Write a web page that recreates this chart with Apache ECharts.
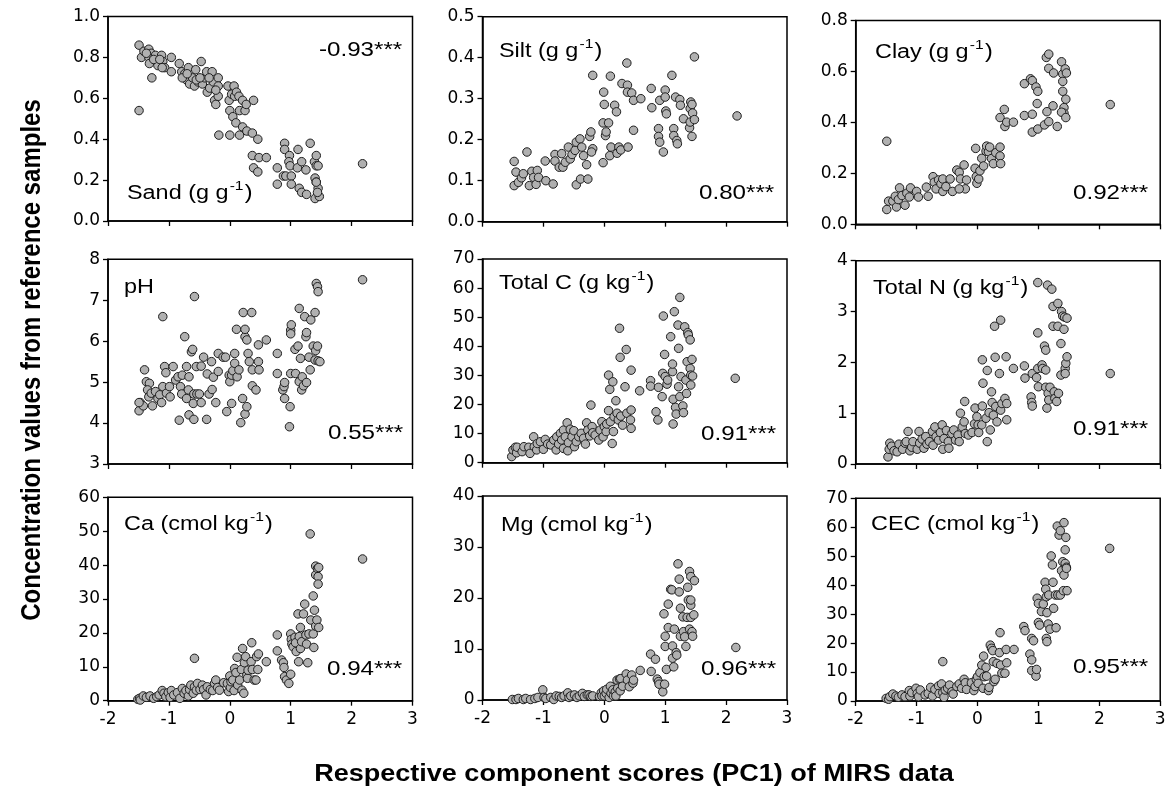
<!DOCTYPE html>
<html><head><meta charset="utf-8">
<script src="https://cdn.jsdelivr.net/npm/echarts@6/dist/echarts.min.js"></script>
<style>html,body{margin:0;padding:0;background:#fff}#c{width:1172px;height:796px}</style>
</head><body><div id="c"></div>
<script>
// ---------------- DATA (x = PC1 score, y = concentration) ----------------
const sand = [[-1.49,0.86],[-1.45,0.80],[-1.41,0.83],[-1.33,0.84],[-1.33,0.80],[-1.29,0.82],[-1.32,0.77],[-1.22,0.81],[-1.18,0.76],[-1.28,0.70],[-1.49,0.54],[-1.12,0.81],[-1.10,0.78],[-1.07,0.75],[-0.96,0.80],[-0.96,0.73],[-0.83,0.77],[-0.79,0.73],[-0.74,0.72],[-0.71,0.69],[-0.68,0.75],[-0.66,0.67],[-0.61,0.70],[-0.58,0.66],[-0.56,0.74],[-0.52,0.68],[-0.47,0.78],[-0.45,0.67],[-0.41,0.70],[-0.38,0.73],[-0.37,0.63],[-0.33,0.65],[-0.29,0.73],[-0.27,0.68],[-0.25,0.59],[-0.23,0.57],[-0.19,0.70],[-0.19,0.66],[-0.19,0.61],[-0.18,0.42],[-0.03,0.66],[-0.01,0.59],[0.00,0.54],[0.03,0.62],[0.07,0.66],[0.08,0.61],[0.05,0.51],[0.10,0.48],[0.00,0.42],[0.11,0.63],[0.15,0.61],[0.16,0.54],[0.21,0.59],[0.25,0.54],[0.27,0.57],[0.16,0.42],[0.21,0.46],[0.28,0.44],[0.37,0.43],[0.39,0.59],[0.46,0.40],[0.37,0.32],[0.39,0.26],[0.46,0.24],[0.48,0.31],[0.60,0.31],[0.78,0.26],[0.78,0.18],[0.90,0.38],[0.90,0.35],[0.88,0.22],[0.92,0.22],[0.98,0.32],[0.97,0.29],[0.99,0.27],[1.01,0.22],[1.01,0.18],[1.12,0.35],[1.11,0.26],[1.18,0.29],[1.14,0.16],[1.18,0.14],[1.25,0.25],[1.26,0.13],[1.32,0.38],[1.39,0.29],[1.40,0.21],[1.42,0.27],[1.42,0.32],[1.45,0.27],[1.42,0.19],[1.45,0.16],[1.40,0.11],[1.47,0.12],[1.42,0.19],[1.44,0.14],[2.18,0.28],[-1.37,0.82],[-1.25,0.79],[-1.15,0.79],[-1.11,0.75],[-0.78,0.70],[-0.70,0.72],[-0.55,0.69],[-0.49,0.70],[-0.34,0.70],[-0.23,0.64]];
const silt = [[-1.48,0.147],[-1.45,0.121],[-1.48,0.088],[-1.41,0.096],[-1.36,0.107],[-1.33,0.117],[-1.27,0.170],[-1.23,0.088],[-1.19,0.123],[-1.16,0.108],[-1.12,0.091],[-1.10,0.125],[-1.08,0.108],[-0.97,0.148],[-0.96,0.100],[-0.84,0.092],[-0.81,0.164],[-0.81,0.148],[-0.74,0.133],[-0.70,0.166],[-0.68,0.133],[-0.64,0.145],[-0.59,0.182],[-0.56,0.153],[-0.53,0.164],[-0.48,0.174],[-0.46,0.194],[-0.46,0.090],[-0.40,0.202],[-0.39,0.104],[-0.37,0.182],[-0.34,0.161],[-0.29,0.139],[-0.27,0.104],[-0.24,0.208],[-0.22,0.219],[-0.19,0.357],[-0.19,0.178],[-0.21,0.170],[-0.02,0.144],[-0.02,0.241],[-0.01,0.316],[0.00,0.286],[0.02,0.210],[0.03,0.219],[0.07,0.241],[0.10,0.355],[0.09,0.161],[0.11,0.182],[0.17,0.284],[0.20,0.268],[0.21,0.167],[0.24,0.182],[0.27,0.175],[0.29,0.337],[0.37,0.387],[0.38,0.333],[0.38,0.316],[0.39,0.182],[0.45,0.314],[0.48,0.296],[0.48,0.223],[0.60,0.300],[0.77,0.325],[0.78,0.278],[0.89,0.227],[0.89,0.208],[0.91,0.194],[0.91,0.296],[0.97,0.170],[1.00,0.321],[1.00,0.304],[1.01,0.270],[1.02,0.263],[1.11,0.357],[1.14,0.227],[1.14,0.210],[1.17,0.304],[1.19,0.198],[1.20,0.190],[1.24,0.298],[1.25,0.284],[1.30,0.251],[1.40,0.229],[1.41,0.276],[1.42,0.292],[1.44,0.286],[1.44,0.208],[1.45,0.265],[1.41,0.243],[1.48,0.249],[1.48,0.402],[2.18,0.258]];
const clay = [[-1.49,0.058],[-1.46,0.091],[-1.49,0.326],[-1.39,0.091],[-1.35,0.110],[-1.33,0.068],[-1.30,0.097],[-1.28,0.143],[-1.24,0.113],[-1.19,0.075],[-1.16,0.122],[-1.12,0.107],[-1.10,0.143],[-1.00,0.129],[-0.97,0.107],[-0.84,0.146],[-0.81,0.110],[-0.73,0.187],[-0.71,0.165],[-0.68,0.139],[-0.64,0.174],[-0.60,0.159],[-0.57,0.178],[-0.57,0.129],[-0.52,0.148],[-0.45,0.178],[-0.41,0.129],[-0.34,0.213],[-0.30,0.204],[-0.28,0.178],[-0.22,0.233],[-0.20,0.139],[-0.18,0.174],[-0.30,0.139],[-0.03,0.298],[-0.04,0.220],[-0.02,0.187],[-0.01,0.161],[0.02,0.178],[0.04,0.210],[0.07,0.259],[0.10,0.229],[0.14,0.287],[0.15,0.307],[0.18,0.285],[0.20,0.303],[0.23,0.258],[0.26,0.238],[0.30,0.281],[0.37,0.303],[0.37,0.268],[0.38,0.238],[0.37,0.419],[0.44,0.451],[0.45,0.384],[0.48,0.401],[0.59,0.401],[0.77,0.552],[0.77,0.427],[0.87,0.571],[0.90,0.564],[0.90,0.432],[0.90,0.362],[0.96,0.539],[0.99,0.522],[0.98,0.474],[0.99,0.374],[1.10,0.390],[1.14,0.442],[1.17,0.403],[1.13,0.655],[1.17,0.668],[1.17,0.612],[1.25,0.594],[1.24,0.465],[1.31,0.384],[1.38,0.638],[1.40,0.590],[1.40,0.561],[1.40,0.522],[1.42,0.458],[1.42,0.436],[1.38,0.440],[1.44,0.610],[1.46,0.594],[1.45,0.491],[1.45,0.419],[2.18,0.470]];
const ph = [[-1.49,4.30],[-1.47,4.50],[-1.42,4.42],[-1.49,4.50],[-1.40,5.30],[-1.37,5.01],[-1.32,4.97],[-1.35,4.81],[-1.33,4.64],[-1.29,4.73],[-1.27,4.42],[-1.22,4.77],[-1.18,4.60],[-1.15,4.69],[-1.12,4.50],[-1.10,4.89],[-1.10,6.60],[-1.07,5.38],[-1.05,5.23],[-1.04,4.73],[-0.99,4.89],[-0.98,4.64],[-0.93,5.38],[-0.89,5.05],[-0.85,5.13],[-0.83,4.07],[-0.81,4.89],[-0.79,4.71],[-0.78,5.17],[-0.74,6.11],[-0.71,5.38],[-0.71,4.60],[-0.68,4.81],[-0.67,5.13],[-0.67,4.20],[-0.63,5.74],[-0.61,5.80],[-0.60,4.48],[-0.59,4.71],[-0.59,4.09],[-0.58,7.09],[-0.55,5.38],[-0.54,4.71],[-0.50,4.71],[-0.47,5.39],[-0.47,4.50],[-0.43,5.61],[-0.38,4.09],[-0.37,5.20],[-0.34,4.71],[-0.30,5.50],[-0.29,4.82],[-0.27,5.12],[-0.23,4.50],[-0.19,5.70],[-0.19,5.26],[-0.11,5.61],[-0.07,5.61],[-0.05,4.28],[-0.01,5.17],[0.00,5.01],[0.03,4.48],[0.03,5.17],[0.05,5.28],[0.08,5.70],[0.08,5.46],[0.11,6.29],[0.12,5.13],[0.15,5.30],[0.18,4.01],[0.21,4.60],[0.22,6.70],[0.25,6.11],[0.25,6.29],[0.25,4.22],[0.28,4.40],[0.28,6.03],[0.30,5.70],[0.32,5.50],[0.36,6.70],[0.37,5.30],[0.37,4.91],[0.43,4.81],[0.47,5.91],[0.47,5.50],[0.48,5.30],[0.60,6.03],[0.78,5.70],[0.78,5.21],[0.87,4.81],[0.89,4.89],[0.90,4.99],[0.90,4.60],[0.98,3.91],[0.99,4.40],[1.00,6.27],[1.00,6.18],[1.01,6.40],[1.00,5.21],[1.07,5.80],[1.08,5.21],[1.12,5.88],[1.14,6.80],[1.14,5.01],[1.16,5.58],[1.18,4.81],[1.19,5.13],[1.21,4.91],[1.23,6.60],[1.25,6.11],[1.26,6.21],[1.26,4.99],[1.30,5.61],[1.33,6.52],[1.32,5.30],[1.37,5.88],[1.40,6.70],[1.40,5.54],[1.42,7.41],[1.44,7.33],[1.45,7.21],[1.41,5.77],[1.44,5.88],[1.45,5.52],[1.48,5.50],[2.18,7.50]];
const totalC = [[-1.52,2.1],[-1.50,4.4],[-1.46,5.3],[-1.44,3.4],[-1.43,5.3],[-1.35,3.8],[-1.32,5.5],[-1.24,5.3],[-1.22,3.2],[-1.16,8.9],[-1.15,5.5],[-1.11,4.4],[-1.10,6.6],[-1.05,7.2],[-1.00,4.6],[-0.97,8.0],[-0.93,6.4],[-0.88,6.1],[-0.83,7.8],[-0.79,4.4],[-0.78,8.9],[-0.75,6.4],[-0.72,10.1],[-0.70,7.8],[-0.67,11.2],[-0.67,4.9],[-0.64,8.9],[-0.61,13.7],[-0.60,4.1],[-0.59,6.9],[-0.56,11.5],[-0.53,8.9],[-0.50,11.0],[-0.49,5.5],[-0.46,7.2],[-0.42,8.9],[-0.38,10.1],[-0.34,8.4],[-0.31,6.4],[-0.29,13.7],[-0.27,11.2],[-0.24,9.2],[-0.22,19.8],[-0.20,12.4],[-0.19,10.3],[-0.15,9.5],[-0.09,7.8],[-0.07,11.2],[-0.04,14.1],[-0.02,8.9],[0.00,12.4],[0.03,10.7],[0.04,13.3],[0.07,30.1],[0.07,17.9],[0.09,25.2],[0.10,14.1],[0.13,6.6],[0.14,27.8],[0.15,10.7],[0.16,15.8],[0.19,21.3],[0.21,17.0],[0.23,14.7],[0.25,46.2],[0.26,36.2],[0.27,16.0],[0.30,12.9],[0.34,26.1],[0.36,38.9],[0.37,17.0],[0.43,14.7],[0.44,18.1],[0.44,11.8],[0.44,31.8],[0.58,24.7],[0.76,28.2],[0.76,26.3],[0.85,17.5],[0.88,14.7],[0.89,25.9],[0.95,22.7],[0.96,30.7],[0.97,50.4],[0.99,37.2],[1.00,29.6],[1.03,27.0],[1.04,28.4],[1.09,43.3],[1.12,31.3],[1.12,33.9],[1.13,21.8],[1.13,13.3],[1.15,51.9],[1.17,19.0],[1.18,16.7],[1.21,47.3],[1.22,39.3],[1.22,26.1],[1.24,22.7],[1.24,56.8],[1.26,29.6],[1.29,19.5],[1.30,17.2],[1.32,46.7],[1.34,28.4],[1.35,23.8],[1.36,34.7],[1.37,44.7],[1.38,43.9],[1.41,42.2],[1.41,32.4],[1.42,30.1],[1.42,26.7],[1.44,35.5],[1.45,29.8],[2.15,29.0]];
const totalN = [[-1.47,0.14],[-1.45,0.29],[-1.44,0.41],[-1.41,0.35],[-1.37,0.26],[-1.32,0.24],[-1.29,0.39],[-1.23,0.29],[-1.19,0.41],[-1.17,0.44],[-1.14,0.64],[-1.11,0.26],[-1.08,0.33],[-1.06,0.44],[-0.99,0.29],[-0.96,0.64],[-0.95,0.41],[-0.91,0.49],[-0.88,0.31],[-0.85,0.54],[-0.83,0.39],[-0.79,0.44],[-0.74,0.64],[-0.73,0.37],[-0.70,0.73],[-0.68,0.54],[-0.64,0.47],[-0.61,0.62],[-0.58,0.77],[-0.57,0.29],[-0.55,0.50],[-0.51,0.66],[-0.48,0.44],[-0.47,0.31],[-0.42,0.60],[-0.39,0.67],[-0.36,0.47],[-0.32,0.57],[-0.30,0.44],[-0.28,1.00],[-0.25,0.73],[-0.22,0.83],[-0.21,1.23],[-0.20,0.60],[-0.15,0.57],[-0.09,0.62],[-0.05,0.79],[-0.04,1.10],[-0.01,0.93],[0.01,0.77],[0.02,0.62],[0.07,0.77],[0.08,1.14],[0.08,2.05],[0.09,1.59],[0.14,0.90],[0.16,1.84],[0.16,0.44],[0.19,1.01],[0.21,0.67],[0.23,1.42],[0.24,1.21],[0.26,0.96],[0.28,2.71],[0.29,2.10],[0.30,1.13],[0.32,0.83],[0.36,1.78],[0.38,2.83],[0.38,1.06],[0.40,1.19],[0.45,1.29],[0.47,2.11],[0.48,0.87],[0.48,1.19],[0.59,1.88],[0.77,1.93],[0.78,1.69],[0.88,1.32],[0.89,1.21],[0.90,1.14],[0.90,1.78],[0.97,1.70],[0.99,3.57],[0.99,2.58],[0.99,1.88],[1.00,1.52],[1.06,1.95],[1.07,1.88],[1.10,2.32],[1.12,2.24],[1.12,1.85],[1.12,1.51],[1.14,1.10],[1.15,3.52],[1.16,1.39],[1.17,1.26],[1.19,1.51],[1.22,3.44],[1.24,3.10],[1.24,2.71],[1.26,1.42],[1.27,1.29],[1.30,1.23],[1.32,3.16],[1.32,2.71],[1.33,1.39],[1.37,2.37],[1.37,1.75],[1.38,3.00],[1.40,2.91],[1.42,2.65],[1.43,2.89],[1.44,1.88],[1.44,1.78],[1.45,1.98],[1.47,2.11],[1.47,2.87],[2.18,1.78]];
const ca = [[-1.51,0.4],[-1.48,0.7],[-1.47,0.2],[-1.42,1.4],[-1.37,1.0],[-1.31,1.4],[-1.25,0.7],[-1.20,1.2],[-1.16,1.7],[-1.11,3.0],[-1.08,2.2],[-1.05,1.2],[-1.01,2.4],[-0.98,1.0],[-0.96,3.0],[-0.92,1.7],[-0.86,2.4],[-0.82,0.7],[-0.78,3.6],[-0.75,2.2],[-0.72,3.0],[-0.68,1.4],[-0.66,3.3],[-0.64,4.6],[-0.60,2.2],[-0.58,12.5],[-0.58,4.1],[-0.55,3.1],[-0.53,5.1],[-0.49,3.3],[-0.45,4.6],[-0.43,3.3],[-0.39,1.7],[-0.37,4.1],[-0.32,3.3],[-0.28,3.0],[-0.25,5.1],[-0.23,6.1],[-0.20,3.9],[-0.17,3.1],[-0.10,5.3],[-0.04,5.1],[-0.02,2.7],[0.00,7.3],[0.01,3.9],[0.02,5.6],[0.05,6.1],[0.07,3.0],[0.08,9.5],[0.10,8.3],[0.12,12.8],[0.13,4.6],[0.16,6.1],[0.19,9.2],[0.20,3.1],[0.21,15.4],[0.23,2.2],[0.24,11.2],[0.26,13.0],[0.28,7.6],[0.29,6.6],[0.30,9.0],[0.35,11.5],[0.36,17.1],[0.37,9.2],[0.40,6.1],[0.43,6.1],[0.44,13.0],[0.46,9.2],[0.47,13.8],[0.60,11.5],[0.78,19.4],[0.78,14.7],[0.85,12.0],[0.88,11.2],[0.89,9.8],[0.90,7.1],[0.93,6.1],[0.97,5.1],[1.00,7.8],[1.00,19.7],[1.01,18.1],[1.02,16.7],[1.04,15.9],[1.07,18.7],[1.08,17.1],[1.09,14.5],[1.12,25.6],[1.13,11.5],[1.14,18.9],[1.16,21.6],[1.16,15.4],[1.18,17.4],[1.21,25.6],[1.23,28.5],[1.25,19.4],[1.26,16.7],[1.28,11.2],[1.30,19.7],[1.32,49.2],[1.33,23.8],[1.37,19.7],[1.37,30.9],[1.38,15.7],[1.39,26.7],[1.41,37.1],[1.41,22.0],[1.41,39.7],[1.43,23.8],[1.44,39.0],[1.45,36.6],[1.46,39.3],[1.45,34.4],[1.46,21.6],[2.18,41.8]];
const mg = [[-1.51,0.1],[-1.45,0.1],[-1.41,0.3],[-1.33,0.1],[-1.29,0.3],[-1.21,0.1],[-1.14,0.3],[-1.09,0.5],[-1.01,2.0],[-0.99,0.5],[-0.96,0.3],[-0.88,0.5],[-0.83,0.1],[-0.79,0.8],[-0.74,0.7],[-0.70,0.5],[-0.66,0.8],[-0.60,1.4],[-0.58,0.5],[-0.55,0.8],[-0.49,1.0],[-0.45,0.5],[-0.41,0.8],[-0.36,1.3],[-0.33,0.7],[-0.28,1.0],[-0.25,1.0],[-0.22,0.7],[-0.19,0.8],[-0.08,0.7],[-0.05,1.4],[-0.04,0.8],[-0.01,1.8],[0.00,0.8],[0.03,1.3],[0.04,2.1],[0.08,0.5],[0.10,2.7],[0.11,1.3],[0.14,2.0],[0.15,0.8],[0.18,1.6],[0.19,0.8],[0.21,3.9],[0.22,2.3],[0.25,4.1],[0.26,1.8],[0.27,4.2],[0.30,2.7],[0.36,5.1],[0.38,3.9],[0.41,2.6],[0.45,4.9],[0.47,3.3],[0.48,3.9],[0.59,5.8],[0.76,9.0],[0.77,5.6],[0.84,8.0],[0.87,4.1],[0.89,3.6],[0.90,3.1],[0.96,1.6],[0.99,3.1],[0.98,16.9],[1.00,12.5],[1.00,10.5],[1.02,6.0],[1.05,18.8],[1.05,14.2],[1.09,21.7],[1.11,21.6],[1.12,10.6],[1.12,8.2],[1.14,6.5],[1.15,13.9],[1.18,9.3],[1.19,8.8],[1.21,26.7],[1.23,23.7],[1.23,21.2],[1.25,18.0],[1.25,12.5],[1.29,16.3],[1.30,13.4],[1.32,12.4],[1.34,10.5],[1.36,16.2],[1.37,22.1],[1.38,19.6],[1.40,25.2],[1.40,13.9],[1.42,16.2],[1.42,18.6],[1.42,24.2],[1.44,13.4],[1.45,12.5],[1.47,16.7],[1.48,23.4],[1.42,19.6],[2.16,10.3]];
const cec = [[-1.50,0.9],[-1.46,0.6],[-1.44,1.5],[-1.39,2.4],[-1.34,1.7],[-1.30,1.3],[-1.24,2.1],[-1.19,1.5],[-1.12,3.6],[-1.11,1.7],[-1.08,2.9],[-1.01,4.4],[-0.99,2.6],[-0.97,1.5],[-0.94,3.8],[-0.86,2.1],[-0.81,2.6],[-0.77,4.7],[-0.74,1.7],[-0.70,4.0],[-0.64,5.2],[-0.63,2.6],[-0.59,5.9],[-0.57,13.6],[-0.57,2.9],[-0.55,1.3],[-0.53,3.8],[-0.49,4.4],[-0.46,5.5],[-0.42,3.2],[-0.40,2.4],[-0.34,5.0],[-0.30,5.9],[-0.26,4.4],[-0.22,7.5],[-0.20,6.3],[-0.18,4.0],[-0.10,6.3],[-0.06,3.6],[-0.04,5.0],[-0.02,7.5],[0.00,8.4],[0.01,6.1],[0.04,9.8],[0.07,12.4],[0.09,4.4],[0.10,15.5],[0.11,8.4],[0.14,11.6],[0.15,8.6],[0.18,3.6],[0.19,4.7],[0.21,19.3],[0.23,18.2],[0.25,17.4],[0.26,13.6],[0.27,6.7],[0.29,7.5],[0.32,13.0],[0.36,16.7],[0.37,23.6],[0.38,12.4],[0.40,9.6],[0.45,9.6],[0.47,17.8],[0.48,13.2],[0.60,17.8],[0.76,25.7],[0.78,24.3],[0.86,16.2],[0.89,21.6],[0.89,14.2],[0.89,10.5],[0.92,20.8],[0.96,8.6],[0.97,10.9],[0.98,35.5],[1.00,33.7],[1.00,27.1],[1.02,26.2],[1.05,30.9],[1.08,33.5],[1.11,41.0],[1.12,38.6],[1.13,36.0],[1.13,21.6],[1.14,20.5],[1.14,30.5],[1.16,26.6],[1.17,36.6],[1.19,24.8],[1.21,50.1],[1.23,47.0],[1.24,41.0],[1.25,32.0],[1.28,36.6],[1.29,25.3],[1.31,60.4],[1.32,36.6],[1.34,57.3],[1.36,58.8],[1.36,36.6],[1.38,45.0],[1.40,48.1],[1.41,38.1],[1.42,43.5],[1.42,61.6],[1.44,52.2],[1.44,47.5],[1.45,56.5],[1.46,46.2],[1.47,38.1],[1.46,45.8],[2.17,52.7]];

const panelData = [sand, silt, clay, ph, totalC, totalN, ca, mg, cec];
const panelNames = ['Sand', 'Silt', 'Clay', 'pH', 'Total C', 'Total N', 'Ca', 'Mg', 'CEC'];
const panelUnits = ['g g', 'g g', 'g g', '', 'g kg', 'g kg', 'cmol kg', 'cmol kg', 'cmol kg'];
const corrLabels = ['-0.93***', '0.80***', '0.92***', '0.55***', '0.91***', '0.91***', '0.94***', '0.96***', '0.95***'];
const yMin = [0, 0, 0, 3, 0, 0, 0, 0, 0];
const yMax = [1.0, 0.5, 0.8, 8, 70, 4, 60, 40, 70];
const yStep = [0.2, 0.1, 0.2, 1, 10, 1, 10, 10, 10];
const yDecimals = [1, 1, 1, 0, 0, 0, 0, 0, 0];
const xMin = -2, xMax = 3, xStep = 1;
const xTitle = 'Respective component scores (PC1) of MIRS data';
const yTitle = 'Concentration values from reference samples';

// ---------------- LAYOUT ----------------
const FONT = '"Liberation Sans", Arial, sans-serif';
const TICKFONT = '"DejaVu Sans", "Liberation Sans", sans-serif';
const colLeft = [108, 482.5, 855.7];
const plotW = 304.5;
const boxTop = [16.5, 16.7, 20.5, 259.3, 259, 260.7, 497.3, 496, 498.3];
const boxBottom = [221, 221.7, 224.3, 464, 462.7, 464, 700.7, 700, 701];
const nameAt = [[127,192],[499,50],[875,51],[124,286],[499,282],[873,287],[124,523],[501,524],[871,523]];
const corrAt = [[319,50],[699,193],[1073,193],[328,433],[701,434],[1073,429],[327,669],[701,669],[1073,667]];

const grids = [], xAxes = [], yAxes = [], series = [], graphics = [];
for (let i = 0; i < 9; i++) {
  const col = i % 3, row = Math.floor(i / 3);
  grids.push({
    left: colLeft[col], top: boxTop[i], width: plotW, height: boxBottom[i] - boxTop[i],
    show: true, borderColor: '#000', borderWidth: 1.5, containLabel: false, outerBoundsMode: 'none'
  });
  xAxes.push({
    type: 'value', gridIndex: i, min: xMin, max: xMax, interval: xStep,
    axisLine: { show: true, onZero: false, lineStyle: { color: '#000', width: 1.5 } },
    axisTick: { show: true, inside: false, length: 5, lineStyle: { color: '#000', width: 1.3 } },
    axisLabel: { show: row === 2, margin: 10, fontSize: 17, color: '#000', fontFamily: TICKFONT },
    splitLine: { show: false }
  });
  const dec = yDecimals[i];
  yAxes.push({
    type: 'value', gridIndex: i, min: yMin[i], max: yMax[i], interval: yStep[i],
    axisLine: { show: true, onZero: false, lineStyle: { color: '#000', width: 1.5 } },
    axisTick: { show: true, inside: false, length: 5, lineStyle: { color: '#000', width: 1.3 } },
    axisLabel: { show: true, margin: 8, fontSize: 17, color: '#000', fontFamily: TICKFONT,
      formatter: v => Number(v).toFixed(dec) },
    splitLine: { show: false }
  });
  series.push({
    type: 'scatter', xAxisIndex: i, yAxisIndex: i, data: panelData[i],
    symbol: 'circle', symbolSize: 8.5, animation: false,
    itemStyle: { color: '#b0b0b0', borderColor: '#1e1e1e', borderWidth: 1, opacity: 1 }
  });
  const unit = panelUnits[i];
  const txt = unit ? `{a|${panelNames[i]} (${unit}}{s|-1}{a|)}` : `{a|${panelNames[i]}}`;
  graphics.push({
    type: 'text', x: nameAt[i][0], y: nameAt[i][1], scaleX: 1.2, z: 100,
    style: { text: txt, align: 'left', verticalAlign: 'middle', fill: '#000',
      rich: { a: { fontSize: 19.5, fontFamily: FONT, fill: '#000', lineHeight: 24, verticalAlign: 'bottom' },
              s: { fontSize: 13, fontFamily: FONT, fill: '#000', lineHeight: 24, verticalAlign: 'top', padding: [0, 1, 0, 1] } } }
  });
  graphics.push({
    type: 'text', x: corrAt[i][0], y: corrAt[i][1], scaleX: 1.15, z: 100,
    style: { text: corrLabels[i], align: 'left', verticalAlign: 'middle', fill: '#000',
      fontSize: 21, fontFamily: FONT }
  });
}
graphics.push({
  type: 'text', x: 634, y: 775, scaleX: 1.15, z: 100,
  style: { text: xTitle, align: 'center', verticalAlign: 'middle', fill: '#000',
    fontSize: 23.5, fontWeight: 'bold', fontFamily: FONT }
});
graphics.push({
  type: 'text', x: 33, y: 360, rotation: Math.PI / 2, scaleY: 1.12, z: 100,
  style: { text: yTitle, align: 'center', verticalAlign: 'middle', fill: '#000',
    fontSize: 24, fontWeight: 'bold', fontFamily: FONT }
});

const chart = echarts.init(document.getElementById('c'), null, { renderer: 'canvas' });
chart.setOption({
  backgroundColor: '#fff', animation: false,
  grid: grids, xAxis: xAxes, yAxis: yAxes, series: series, graphic: graphics
});
</script></body></html>
